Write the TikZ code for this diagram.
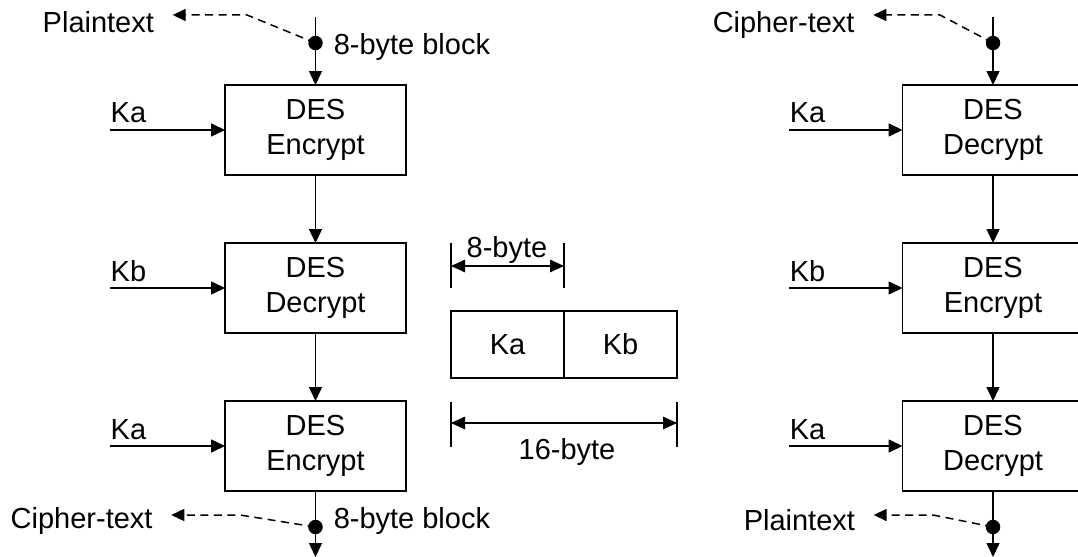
\documentclass[tikz,border=0pt]{standalone}
\usepackage{fontspec}
\setmainfont{Liberation Sans}
\usetikzlibrary{arrows.meta,positioning}

\begin{document}
\begin{tikzpicture}[
    x=0.02cm, y=-0.02cm,
    line width=0.85pt,
    font=\fontsize{16.5}{19.8}\selectfont,
    desbox/.style={draw, minimum width=3.62cm, minimum height=1.8cm,
                   align=center, inner sep=0pt, outer sep=0pt,
                   execute at begin node=\rule{0pt}{1em}},
    keycell/.style={draw, minimum width=2.26cm, minimum height=1.34cm,
                    inner sep=0pt, outer sep=0pt},
    flow/.style={-{Triangle[length=0.28cm,width=0.26cm]}},
    tap/.style={-{Triangle[length=0.26cm,width=0.24cm]},
                dash pattern=on 0.16cm off 0.11cm, shorten >=0.36cm},
    dimline/.style={{Triangle[length=0.28cm,width=0.25cm]}-{Triangle[length=0.28cm,width=0.25cm]}},
    dot/.style={circle, fill, inner sep=0pt, minimum size=0.29cm},
    lbl/.style={inner sep=0pt}
]
\useasboundingbox (0,0) rectangle (1078,557);

% left column: encrypt - decrypt - encrypt
\coordinate (inL) at (315.5,17);
\node[dot] (tapL) at (315.5,43) {};
\node[desbox] (encA) at (315.5,130) {DES\\Encrypt};
\node[desbox] (decB) at (315.5,288) {DES\\Decrypt};
\node[desbox] (encC) at (315.5,446) {DES\\Encrypt};
\node[dot] (tapLo) at (315.5,527) {};
\coordinate (outL) at (315.5,557);

\node[lbl, anchor=base west] (ptL)   at (42,33)   {Plaintext};
\node[lbl, anchor=base west] (blkL)  at (333,55)  {8-byte block};
\node[lbl, anchor=base west] (ctL)   at (10,528)  {Cipher-text};
\node[lbl, anchor=base west] (blkLo) at (333,528) {8-byte block};
\node[lbl, anchor=base west] (kaA)   at (110,123) {Ka};
\node[lbl, anchor=base west] (kbB)   at (110,281) {Kb};
\node[lbl, anchor=base west] (kaC)   at (110,439) {Ka};

\draw (inL) -- (tapL.center);
\draw[flow] (tapL.center) -- (encA);
\draw[flow] (encA) -- (decB);
\draw[flow] (decB) -- (encC);
\draw[flow] (encC) -- (outL);

\draw[flow] (kaA.west |- encA) -- (encA);
\draw[flow] (kbB.west |- decB) -- (decB);
\draw[flow] (kaC.west |- encC) -- (encC);

\coordinate (kneeL) at (247,15);
\coordinate (kneeLo) at (240,515);
\draw[tap] (tapL.center) -- (kneeL) -- (kneeL -| ptL.east);
\draw[tap] (tapLo.center) -- (kneeLo) -- (kneeLo -| ctL.east);

% key layout
\node[keycell] (cellKa) at (507.5,344.5) {Ka};
\node[keycell, right=0pt of cellKa] (cellKb) {Kb};

\coordinate (d8l) at (451,266);
\coordinate (d8r) at (564,266);
\coordinate (d16l) at (451,423);
\coordinate (d16r) at (677,423);
\draw (451,243) -- (451,288);
\draw (564,243) -- (564,288);
\draw (451,402) -- (451,447);
\draw (677,402) -- (677,447);
\draw[dimline] (d8l) -- (d8r);
\draw[dimline] (d16l) -- (d16r);
\node[lbl, anchor=base] (w8)  at (507,257) {8-byte};
\node[lbl, anchor=base] (w16) at (567,459) {16-byte};

% right column: decrypt - encrypt - decrypt
\coordinate (inR) at (993,17);
\node[dot] (tapR) at (993,43) {};
\node[desbox] (decA) at (993,130) {DES\\Decrypt};
\node[desbox] (encB) at (993,288) {DES\\Encrypt};
\node[desbox] (decC) at (993,446) {DES\\Decrypt};
\node[dot] (tapRo) at (993,527) {};
\coordinate (outR) at (993,557);

\node[lbl, anchor=base west] (ctR) at (712,33)  {Cipher-text};
\node[lbl, anchor=base west] (ptR) at (743,530) {Plaintext};
\node[lbl, anchor=base west] (kaD) at (789,123) {Ka};
\node[lbl, anchor=base west] (kbE) at (789,281) {Kb};
\node[lbl, anchor=base west] (kaF) at (789,439) {Ka};

\draw (inR) -- (tapR.center);
\draw[flow] (tapR.center) -- (decA);
\draw[flow] (decA) -- (encB);
\draw[flow] (encB) -- (decC);
\draw[flow] (decC) -- (outR);

\draw[flow] (kaD.west |- decA) -- (decA);
\draw[flow] (kbE.west |- encB) -- (encB);
\draw[flow] (kaF.west |- decC) -- (decC);

\coordinate (kneeR) at (940,15);
\coordinate (kneeRo) at (933,515);
\draw[tap] (tapR.center) -- (kneeR) -- (kneeR -| ctR.east);
\draw[tap] (tapRo.center) -- (kneeRo) -- (kneeRo -| ptR.east);

\end{tikzpicture}
\end{document}
